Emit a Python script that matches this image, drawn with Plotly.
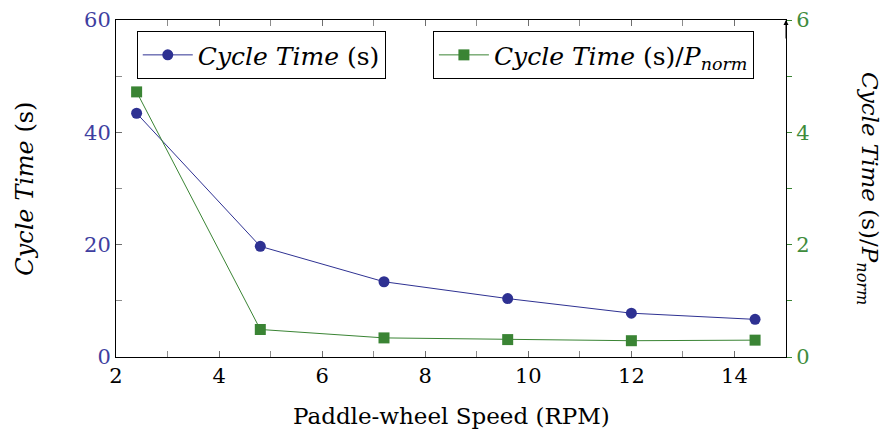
import plotly.graph_objects as go

speed = [2.4, 4.8, 7.2, 9.6, 12.0, 14.4]
cycle_time = [43.4, 19.7, 13.4, 10.4, 7.8, 6.7]
cycle_time_norm = [4.72, 0.49, 0.34, 0.31, 0.29, 0.30]

x_ticks = [2, 4, 6, 8, 10, 12, 14]
y1_ticks = [0, 20, 40, 60]
y2_ticks = [0, 2, 4, 6]

BLUE = "rgb(46,49,146)"
BLUE_TXT = "rgb(62,62,160)"
GREEN = "rgb(58,132,52)"
GREEN_TXT = "rgb(62,140,60)"
FONT = "DejaVu Serif"

fig = go.Figure()
fig.add_trace(go.Scatter(
    x=speed, y=cycle_time, mode="lines+markers",
    name="<i>Cycle Time</i> (s)",
    line=dict(color=BLUE, width=1),
    marker=dict(symbol="circle", size=11, color=BLUE),
    legend="legend", yaxis="y",
))
fig.add_trace(go.Scatter(
    x=speed, y=cycle_time_norm, mode="lines+markers",
    name="<i>Cycle Time</i> (s)/<i>P</i><sub><i>norm</i></sub>",
    line=dict(color=GREEN, width=1),
    marker=dict(symbol="square", size=11, color=GREEN),
    legend="legend2", yaxis="y2",
))

legend_style = dict(
    xanchor="left", yanchor="top",
    bordercolor="black", borderwidth=1, bgcolor="white",
    itemwidth=50,
    font=dict(family=FONT, size=25),
)

fig.update_layout(
    width=882, height=422,
    margin=dict(l=108, r=104, t=12, b=73, autoexpand=False),
    paper_bgcolor="white", plot_bgcolor="white",
    font=dict(family=FONT, size=21, color="black"),
    showlegend=True,
    legend=dict(x=0.031, y=0.967, **legend_style),
    legend2=dict(x=0.473, y=0.967, **legend_style),
    xaxis=dict(
        range=[2, 15], tickvals=x_ticks, ticktext=[str(v) for v in x_ticks],
        showgrid=False, zeroline=False, automargin=False,
        showline=True, linecolor="black", linewidth=1, mirror="ticks",
        ticks="inside", ticklen=6, tickcolor="rgb(110,110,110)",
        minor=dict(dtick=1, tick0=0, ticks="inside", ticklen=6, tickcolor="rgb(140,140,140)"),
        tickfont=dict(family=FONT, size=21, color="black"),
    ),
    yaxis=dict(
        range=[0, 60], tickvals=y1_ticks, ticktext=[str(v) for v in y1_ticks],
        showgrid=False, zeroline=False, automargin=False,
        showline=True, linecolor="black", linewidth=1,
        ticks="inside", ticklen=6, tickcolor="rgb(110,110,110)",
        minor=dict(dtick=10, ticks="inside", ticklen=6, tickcolor="rgb(140,140,140)"),
        tickfont=dict(family=FONT, size=21, color=BLUE_TXT),
    ),
    yaxis2=dict(
        range=[0, 6], tickvals=y2_ticks, ticktext=[str(v) for v in y2_ticks],
        overlaying="y", side="right", anchor="x",
        showgrid=False, zeroline=False, automargin=False,
        showline=True, linecolor="black", linewidth=1,
        ticks="outside", ticklen=5, tickcolor=GREEN,
        minor=dict(dtick=1, ticks="outside", ticklen=5, tickcolor=GREEN),
        tickfont=dict(family=FONT, size=21, color=GREEN_TXT),
    ),
    annotations=[
        dict(
            text="Paddle-wheel Speed (RPM)",
            xref="paper", yref="paper", x=0.5, y=-0.175,
            xanchor="center", yanchor="middle",
            showarrow=False, font=dict(family=FONT, size=23, color="black"),
        ),
        dict(
            text="<i>Cycle Time</i> (s)",
            xref="paper", yref="paper", x=-0.137, y=0.5,
            xanchor="center", yanchor="middle", textangle=-90,
            showarrow=False, font=dict(family=FONT, size=24, color="black"),
        ),
        dict(
            text="<i>Cycle Time</i> (s)/<i>P</i><sub><i>norm</i></sub>",
            xref="paper", yref="paper", x=1.123, y=0.5,
            xanchor="center", yanchor="middle", textangle=90,
            showarrow=False, font=dict(family=FONT, size=23, color="black"),
        ),
        dict(
            text="", xref="paper", yref="paper", x=1, y=1,
            ax=0, ay=20, showarrow=True, arrowhead=2, arrowsize=1,
            arrowwidth=1, arrowcolor="black",
        ),
    ],
)

fig.write_html("out.html")
